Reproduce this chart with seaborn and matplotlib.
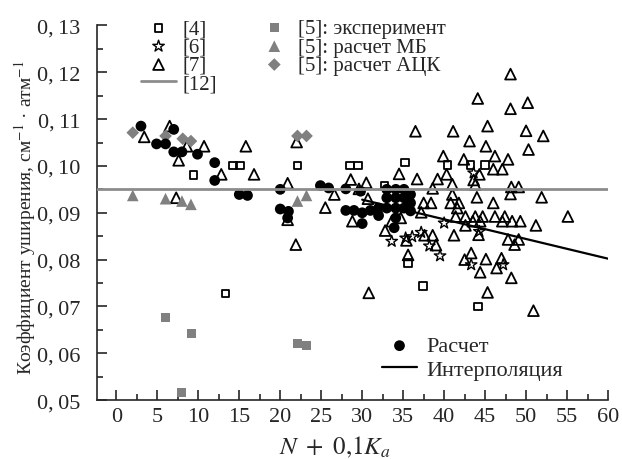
import matplotlib
matplotlib.use("Agg")
import matplotlib.pyplot as plt
from matplotlib.ticker import MultipleLocator, FuncFormatter
import seaborn as sns

# [4]
ref4_x = [9.4, 13.3, 14.2, 15.1, 22.1, 28.5, 29.5, 32.7, 35.2, 35.6, 37.4, 40.4, 43.2, 44.1, 45.0]
ref4_y = [0.0980, 0.0728, 0.1001, 0.1001, 0.1001, 0.1001, 0.1001, 0.0957, 0.1007, 0.0793, 0.0743,
          0.1002, 0.1002, 0.0700, 0.1002]

# [6]
ref6_x = [33.6, 35.3, 36.1, 37.2, 38.2, 39.5, 40.0, 43.3, 43.6, 44.3, 47.2]
ref6_y = [0.0839, 0.0846, 0.0849, 0.0858, 0.0829, 0.0808, 0.0878, 0.0789, 0.0985, 0.0860, 0.0789]

# [7]
ref7_x = [3.4, 6.5, 7.6, 7.3, 8.6, 10.7, 12.8, 15.8, 16.8,
          20.9, 20.9, 21.9, 22.0, 25.5, 26.6, 28.6, 28.8, 29.6, 30.5, 30.7, 30.8,
          32.8, 33.6, 34.5, 34.7, 35.4, 35.6, 36.5, 36.7,
          37.2, 37.5, 37.6, 38.4, 38.6, 38.6, 39.0, 39.2, 39.9,
          40.3, 40.8, 41.0, 41.0, 41.1, 41.2, 41.4, 41.6, 41.8,
          42.4, 42.5, 42.6, 42.6, 43.1, 43.3, 43.5, 43.6, 43.8, 43.8,
          44.0, 44.1, 44.2, 44.3, 44.4, 44.4, 44.7, 45.1, 45.1, 45.3, 45.3,
          46.0, 46.0, 46.2, 46.2, 46.4, 47.0, 47.1, 47.1, 47.4, 47.8, 47.8,
          48.1, 48.1, 48.1, 48.2, 48.2, 48.3, 48.6, 49.1, 49.1, 49.3,
          50.0, 50.2, 50.3, 50.9, 51.2, 51.9, 52.1, 55.1]
ref7_y = [0.1062, 0.1085, 0.1012, 0.0932, 0.1042, 0.1042, 0.0982, 0.1042, 0.0982,
          0.0963, 0.0885, 0.0832, 0.1051, 0.0911, 0.0939, 0.0971, 0.0882, 0.0951, 0.0964, 0.0930, 0.0729,
          0.0862, 0.0882, 0.0983, 0.0889, 0.0841, 0.0810, 0.1074, 0.0972,
          0.0901, 0.0921, 0.0852, 0.0921, 0.0852, 0.0952, 0.0831, 0.0972, 0.1021,
          0.0982, 0.0921, 0.0961, 0.0939, 0.1074, 0.0852, 0.0892, 0.0910, 0.0921,
          0.1014, 0.0800, 0.0892, 0.0873, 0.1053, 0.0814, 0.0882, 0.0970, 0.0960, 0.0892,
          0.0933, 0.1144, 0.0853, 0.0982, 0.0882, 0.0773, 0.0892, 0.1042, 0.0801, 0.1085, 0.0730,
          0.0993, 0.0921, 0.1021, 0.0892, 0.0782, 0.0803, 0.0993, 0.0882, 0.0892, 0.1014, 0.0843,
          0.1196, 0.1122, 0.0940, 0.0955, 0.0761, 0.0882, 0.0832, 0.0955, 0.0843, 0.0882,
          0.1075, 0.1135, 0.1035, 0.0691, 0.0873, 0.0933, 0.1064, 0.0892]

# [12]
ref12_y = 0.095

# [5]: эксперимент, расчет МБ, расчет АЦК
exp5_x = [6.0, 8.0, 9.2, 22.1, 23.2]
exp5_y = [0.0677, 0.0516, 0.0643, 0.0620, 0.0616]
mb5_x = [2.0, 6.0, 8.0, 9.1, 22.1, 23.2]
mb5_y = [0.0937, 0.0930, 0.0925, 0.0918, 0.0925, 0.0937]
ack5_x = [2.0, 6.0, 8.1, 9.1, 22.1, 23.2]
ack5_y = [0.1071, 0.1064, 0.1058, 0.1053, 0.1064, 0.1064]

# Расчет
calc_x = [3.0, 4.9, 6.0, 7.0, 7.0, 8.0, 9.9, 12.0, 12.0, 15.0, 16.0,
          20.0, 20.0, 21.0, 20.9, 24.9, 25.9, 28.0, 29.8, 28.0, 29.0, 30.0, 30.0,
          31.0, 32.0, 32.0, 33.0, 33.0, 33.0, 34.1, 34.1, 34.1, 34.1, 35.1, 35.1, 35.1,
          35.9, 35.9, 35.9, 33.9]
calc_y = [0.1085, 0.1047, 0.1047, 0.1078, 0.1030, 0.1030, 0.1025, 0.1007, 0.0969, 0.0939, 0.0937,
          0.0950, 0.0908, 0.0903, 0.0889, 0.0958, 0.0953, 0.0951, 0.0946, 0.0905, 0.0905, 0.0900, 0.0877,
          0.0905, 0.0910, 0.0894, 0.0950, 0.0932, 0.0910, 0.0950, 0.0932, 0.0910, 0.0889, 0.0950, 0.0932, 0.0910,
          0.0939, 0.0921, 0.0904, 0.0868]

# Интерполяция
interp_x = [30, 60]
interp_y = [0.0928, 0.0802]

sns.set_style("ticks")
plt.rcParams['font.family'] = ['Liberation Serif', 'DejaVu Serif']
plt.rcParams['mathtext.fontset'] = 'stix'

gray = '#808080'

fig = plt.figure(figsize=(6.22, 4.6), dpi=100)
ax = fig.add_axes([0.1555, 0.128, 0.822, 0.8146])

sns.scatterplot(x=ref4_x, y=ref4_y, ax=ax, marker='s', s=30, facecolor='none',
                edgecolor='black', linewidth=1.3, label='[4]')
sns.scatterplot(x=ref6_x, y=ref6_y, ax=ax, marker='*', s=75, facecolor='none',
                edgecolor='black', linewidth=1.0, label='[6]')
sns.scatterplot(x=ref7_x, y=ref7_y, ax=ax, marker='^', s=60, facecolor='none',
                edgecolor='black', linewidth=1.3, label='[7]')
ax.axhline(ref12_y, color='#8c8c8c', linewidth=2, zorder=5, label='[12]')
sns.scatterplot(x=exp5_x, y=exp5_y, ax=ax, marker='s', s=42, color=gray,
                edgecolor='none', label='[5]: эксперимент')
sns.scatterplot(x=mb5_x, y=mb5_y, ax=ax, marker='^', s=70, color=gray,
                edgecolor='none', label='[5]: расчет МБ')
sns.scatterplot(x=ack5_x, y=ack5_y, ax=ax, marker='D', s=42, color=gray,
                edgecolor='none', label='[5]: расчет АЦК')
sns.scatterplot(x=calc_x, y=calc_y, ax=ax, marker='o', s=60, color='black',
                edgecolor='none', label='Расчет', zorder=3)
sns.lineplot(x=interp_x, y=interp_y, ax=ax, color='black', linewidth=1.6,
             label='Интерполяция', zorder=4)

ax.set_xlim(-2.4, 60)
ax.set_ylim(0.05, 0.13)
ax.xaxis.set_major_locator(MultipleLocator(5))
ax.xaxis.set_minor_locator(MultipleLocator(2.5))
ax.yaxis.set_major_locator(MultipleLocator(0.01))
ax.yaxis.set_minor_locator(MultipleLocator(0.005))
ax.yaxis.set_major_formatter(FuncFormatter(lambda v, p: f"{v:.2f}".replace('.', ',\u2009')))
ax.tick_params(which='both', direction='in', top=False, right=False, labelsize=16, width=1.2)
ax.tick_params(axis='x', which='major', length=7, pad=5)
ax.tick_params(axis='y', which='major', length=7, pad=12)
ax.tick_params(which='minor', length=4)
for side in ['top', 'right']:
    ax.spines[side].set_visible(False)
for side in ['left', 'bottom']:
    ax.spines[side].set_linewidth(1.2)

ax.set_xlabel(r"$N\ +\ 0{,}1K_a$", fontsize=18)
ax.set_ylabel(r"Коэффициент уширения, см$^{-1}$ · атм$^{-1}$", fontsize=14)
ax.xaxis.set_label_coords(0.466, -0.09)
ax.yaxis.set_label_coords(-0.114, 0.49)

handles, labels = ax.get_legend_handles_labels()
lut = dict(zip(labels, handles))
top_labels = ['[4]', '[6]', '[7]', '[12]', '[5]: эксперимент', '[5]: расчет МБ', '[5]: расчет АЦК']
leg1 = ax.legend([lut[l] for l in top_labels], top_labels, ncol=2, loc='upper left',
                 bbox_to_anchor=(0.07, 1.04), frameon=False, fontsize=15,
                 handlelength=1.7, handletextpad=0.3, labelspacing=-0.06,
                 columnspacing=1.9, borderaxespad=0)
ax.add_artist(leg1)
bot_labels = ['Расчет', 'Интерполяция']
ax.legend([lut[l] for l in bot_labels], bot_labels, loc='upper left',
          bbox_to_anchor=(0.54, 0.195), frameon=False, fontsize=16,
          handlelength=1.6, handletextpad=0.4, labelspacing=0.12, borderaxespad=0)

fig.savefig("out.png", dpi=100)
